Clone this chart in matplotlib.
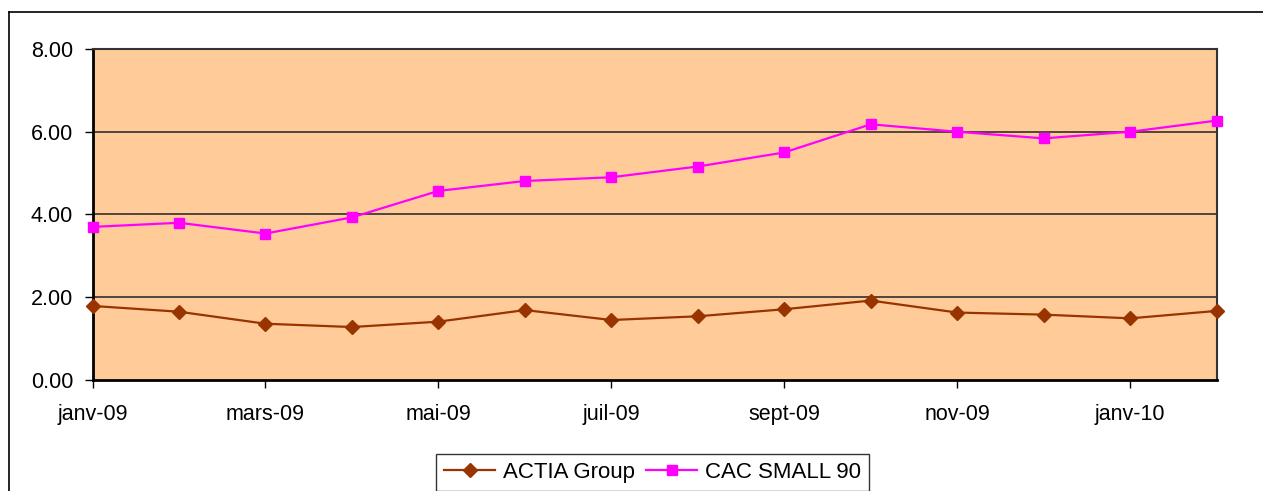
import matplotlib
matplotlib.use("Agg")
import matplotlib.pyplot as plt
from matplotlib.lines import Line2D

plt.rcParams['font.family'] = ['Liberation Sans', 'DejaVu Sans']

months = ["janv-09", "févr-09", "mars-09", "avr-09", "mai-09", "juin-09", "juil-09",
          "août-09", "sept-09", "oct-09", "nov-09", "déc-09", "janv-10", "févr-10"]
actia = [1.79, 1.65, 1.36, 1.28, 1.41, 1.69, 1.45, 1.54, 1.71, 1.92, 1.63, 1.58, 1.49, 1.67]
cac_small90 = [3.70, 3.80, 3.54, 3.93, 4.57, 4.81, 4.90, 5.16, 5.50, 6.18, 6.00, 5.84, 6.00, 6.27]
y_ticks = [0, 2, 4, 6, 8]

fig = plt.figure(figsize=(12.63, 4.91), dpi=100)
ax = fig.add_axes([92.5/1263, 1-380/491, (1216.7-92.5)/1263, (380-49)/491])
ax.set_facecolor('#FFCC99')

x = list(range(len(months)))
ax.plot(x, actia, color='#993300', lw=1.6, marker='D', ms=7.5, mec='#993300', mfc='#993300',
        label='ACTIA Group', clip_on=False, zorder=3)
ax.plot(x, cac_small90, color='#FF00FF', lw=1.6, marker='s', ms=7.5, mec='#FF00FF', mfc='#FF00FF',
        label='CAC SMALL 90', clip_on=False, zorder=3)

ax.set_xlim(0, len(months)-1)
ax.set_ylim(0, 8)
ax.set_yticks(y_ticks)
ax.set_yticklabels([f"{v:.2f}" for v in y_ticks])
ax.set_xticks(x[::2])
ax.set_xticklabels(months[::2])
ax.tick_params(axis='both', labelsize=15.5, colors='black', direction='out', width=1)
ax.tick_params(axis='y', length=6, pad=8)
ax.tick_params(axis='x', length=6, pad=11)
for v in y_ticks[1:-1]:
    ax.axhline(v, color='#222222', lw=1.1, zorder=1)
for s in ['left', 'bottom']:
    ax.spines[s].set_linewidth(2)
    ax.spines[s].set_color('black')
for s in ['top', 'right']:
    ax.spines[s].set_linewidth(1.5)
    ax.spines[s].set_color('#333333')

# outer chart border (top and left visible)
fig.add_artist(Line2D([9/1263, 1], [1-12/491, 1-12/491], color='black', lw=1.2, transform=fig.transFigure))
fig.add_artist(Line2D([9/1263, 9/1263], [0, 1-12/491], color='black', lw=1.2, transform=fig.transFigure))

leg = fig.legend(loc='upper center', bbox_to_anchor=(652.5/1263, 1-454/491), ncol=2,
                 fontsize=16, frameon=True, fancybox=False, edgecolor='black',
                 handlelength=2.3, handletextpad=0.35, columnspacing=0.5,
                 borderpad=0.35, borderaxespad=0)
leg.get_frame().set_linewidth(1)

fig.savefig('out.png', dpi=100, facecolor='white')
